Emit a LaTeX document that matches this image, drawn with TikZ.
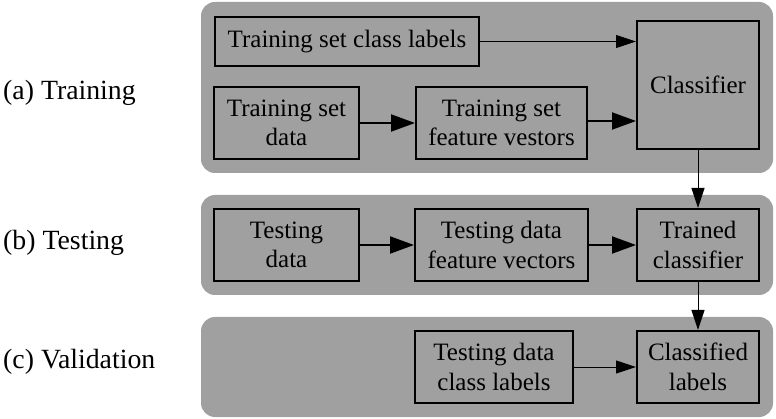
\documentclass[tikz,border=0pt]{standalone}
\usepackage{fontspec}
\setmainfont{Liberation Serif}
\usetikzlibrary{arrows.meta}
\definecolor{panelgray}{RGB}{160,160,160}
\begin{document}
\begin{tikzpicture}[x=1pt,y=-1pt,
  panel/.style={fill=panelgray,draw=none,rounded corners=14pt},
  box/.style={draw=black,line width=2pt,fill=panelgray,inner sep=0pt,align=center,
    font=\fontsize{25}{29.5}\selectfont},
  lbl/.style={anchor=west,inner sep=0pt,font=\fontsize{27.8}{32}\selectfont},
  thick arrow/.style={line width=2pt,-{Triangle[length=24pt,width=17pt]}},
  thin arrow/.style={line width=1pt,-{Triangle[length=20pt,width=13pt]}}]
\useasboundingbox (0,0) rectangle (776,419);
% panels
\fill[panel] (201,2) rectangle (773,173);
\fill[panel] (201,195) rectangle (773,295);
\fill[panel] (201,317) rectangle (773,417);
% side labels
\node[lbl] (la) at (3,93) {(a) Training};
\node[lbl] (lb) at (3,243) {(b) Testing};
\node[lbl] (lc) at (3,362) {(c) Validation};
% boxes
\node[box,minimum width=264pt,minimum height=49pt] (tscl) at (347,41.5) {Training set class labels};
\node[box,minimum width=145pt,minimum height=72pt] (tsd) at (286.5,123) {Training set\\data};
\node[box,minimum width=171pt,minimum height=72pt] (tsfv) at (501.5,123) {Training set\\feature vestors};
\node[box,minimum width=122pt,minimum height=128pt] (clf) at (698,85) {Classifier};
\node[box,minimum width=145pt,minimum height=72pt] (ted) at (286.5,245) {Testing\\data};
\node[box,minimum width=173pt,minimum height=72pt] (tdfv) at (501.5,245) {Testing data\\feature vectors};
\node[box,minimum width=122pt,minimum height=72pt] (trc) at (698,245) {Trained\\classifier};
\node[box,minimum width=158pt,minimum height=72pt] (tdcl) at (494,367) {Testing data\\class labels};
\node[box,minimum width=122pt,minimum height=72pt] (cll) at (698,367) {Classified\\labels};
% connectors
\draw[thin arrow] (tscl.east) -- (tscl.east -| clf.west);
\draw[thick arrow] (tsd.east) -- (tsfv.west);
\draw[thick arrow] ([yshift=2pt]tsfv.east) -- ([yshift=2pt]tsfv.east -| clf.west);
\draw[thin arrow] (clf.south) -- (trc.north);
\draw[thick arrow] (ted.east) -- (tdfv.west);
\draw[thick arrow] (tdfv.east) -- (trc.west);
\draw[thin arrow] (trc.south) -- (cll.north);
\draw[thin arrow] (tdcl.east) -- (cll.west);
\end{tikzpicture}
\end{document}
